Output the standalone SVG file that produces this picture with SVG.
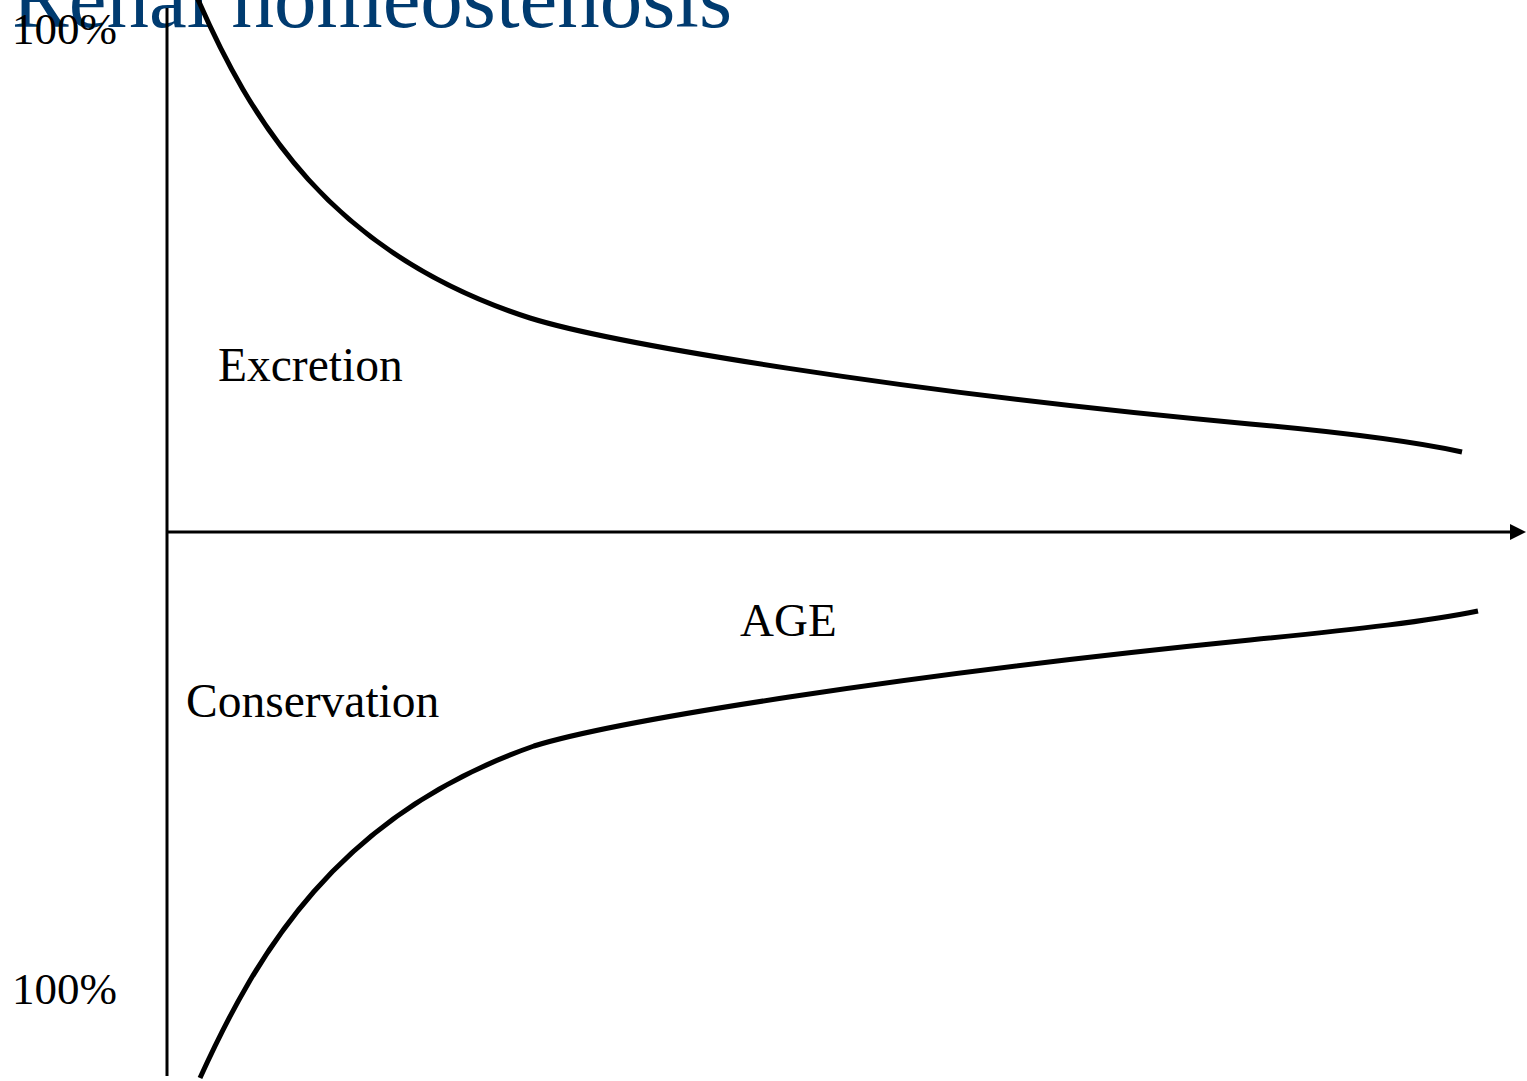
<svg xmlns="http://www.w3.org/2000/svg" width="1527" height="1081" viewBox="0 0 1527 1081">
<style>
.t{font-family:"Liberation Serif","Times New Roman",serif;fill:#000}
.ax{stroke:#000;stroke-width:3;fill:none}
.cv{stroke:#000;stroke-width:5;fill:none}
</style>
<defs>
<marker id="arr" markerWidth="16" markerHeight="16" refX="1" refY="8" orient="auto" markerUnits="userSpaceOnUse">
<path d="M0,0 L16,8 L0,16 Z" fill="#000"/>
</marker>
</defs>
<rect width="1527" height="1081" fill="#fff"/>
<g id="title"><text x="12" y="27" font-family="Liberation Serif, Times New Roman, serif" font-size="85" fill="#003b70">Renal homeostenosis</text></g>
<g id="connectors">
<line class="ax" x1="167" y1="8" x2="167" y2="1076"/>
<line class="ax" x1="167" y1="532" x2="1511" y2="532" marker-end="url(#arr)"/>
<path class="cv" d="M196,-5 C250,120 330,254 530,318 C610,343 900,392 1250,424 C1350,433 1420,443 1462,452"/>
<path class="cv" d="M200,1078 C256,955 336,815 534,746 C614,721 900,675 1250,640 C1360,629 1430,621 1478,611"/>
</g>
<g id="labels">
<text class="t" x="12" y="44" font-size="45">100%</text>
<text class="t" x="12" y="1004" font-size="45">100%</text>
<text class="t" x="218" y="381" font-size="47.5">Excretion</text>
<text class="t" x="740" y="636" font-size="47">AGE</text>
<text class="t" x="186" y="717" font-size="47.5">Conservation</text>
</g>
</svg>
